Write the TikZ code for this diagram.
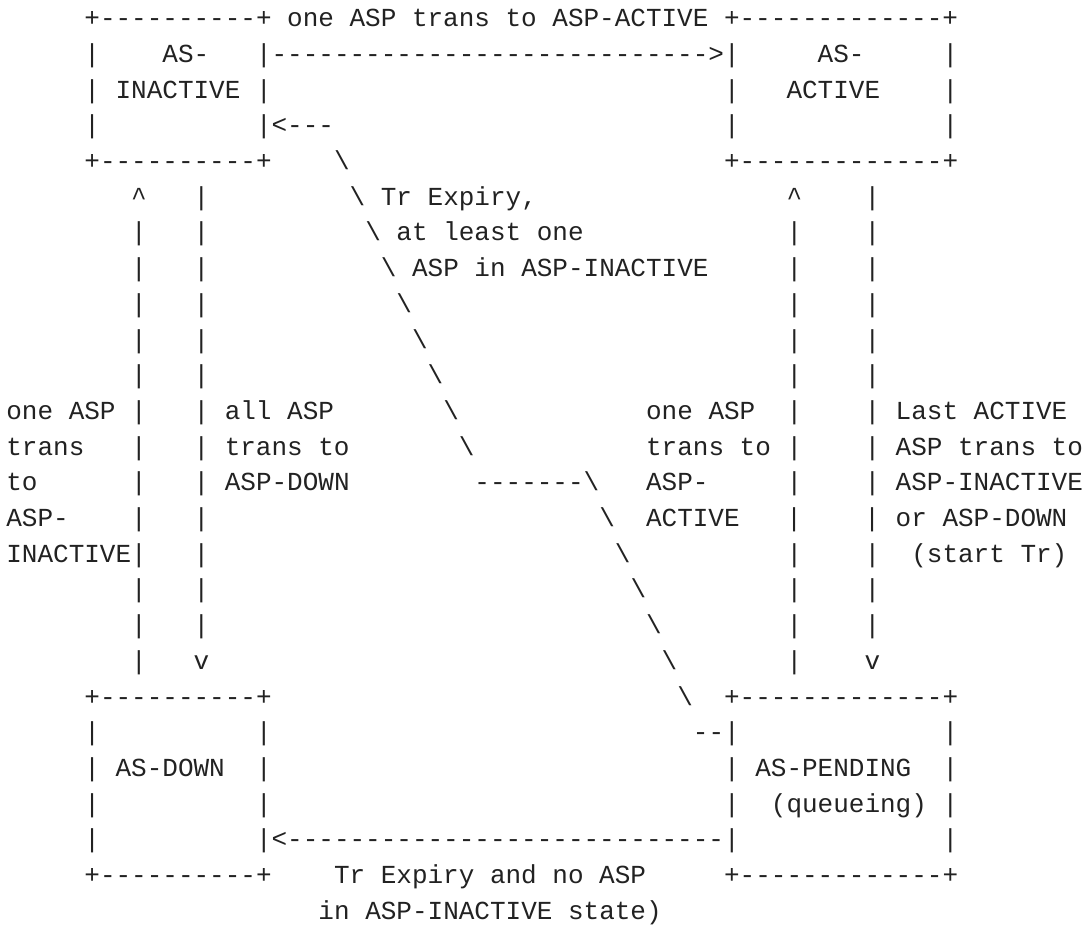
\documentclass[tikz,border=0pt]{standalone}
\usepackage{fontspec}
\setmonofont{Liberation Mono}
\usepackage{tikz}
\definecolor{asciiink}{HTML}{222222}
\newcommand{\spc}[1]{\hspace*{\dimexpr#1\fontcharwd\font`x\relax}}
\newcommand{\bsl}{\textbackslash}
\newcommand{\crt}{\textasciicircum}
\tikzset{asciiline/.style={font=\ttfamily\fontsize{26}{26}\selectfont, text=asciiink, inner sep=0pt, anchor=base west}}

\begin{document}
\begin{tikzpicture}[x=15.6024pt, y=-35.7pt]
		\useasboundingbox[fill=white] (0pt,0pt) rectangle (1090pt,-927pt);
		\begin{scope}[shift={(6.2pt,-26.7pt)}]
			% AS-INACTIVE and AS-ACTIVE
			\node[asciiline] (r1) at (5,0) {+----------+ one ASP trans to ASP-ACTIVE +-------------+};
			\node[asciiline] (r2) at (5,1) {|\spc{4}AS-\spc{3}|---------------------------->|\spc{5}AS-\spc{5}|};
			\node[asciiline] (r3) at (5,2) {| INACTIVE |\spc{29}|\spc{3}ACTIVE\spc{4}|};
			\node[asciiline] (r4) at (5,3) {|\spc{10}|<---\spc{25}|\spc{13}|};
			\node[asciiline] (r5) at (5,4) {+----------+\spc{4}\bsl\spc{24}+-------------+};
			% transitions
			\node[asciiline] (r6) at (8,5) {\crt\spc{3}|\spc{9}\bsl{} Tr Expiry,\spc{16}\crt\spc{4}|};
			\node[asciiline] (r7) at (8,6) {|\spc{3}|\spc{10}\bsl{} at least one\spc{13}|\spc{4}|};
			\node[asciiline] (r8) at (8,7) {|\spc{3}|\spc{11}\bsl{} ASP in ASP-INACTIVE\spc{5}|\spc{4}|};
			\node[asciiline] (r9) at (8,8) {|\spc{3}|\spc{12}\bsl\spc{24}|\spc{4}|};
			\node[asciiline] (r10) at (8,9) {|\spc{3}|\spc{13}\bsl\spc{23}|\spc{4}|};
			\node[asciiline] (r11) at (8,10) {|\spc{3}|\spc{14}\bsl\spc{22}|\spc{4}|};
			\node[asciiline] (r12) at (0,11) {one ASP |\spc{3}| all ASP\spc{7}\bsl\spc{12}one ASP\spc{2}|\spc{4}| Last ACTIVE};
			\node[asciiline] (r13) at (0,12) {trans\spc{3}|\spc{3}| trans to\spc{7}\bsl\spc{11}trans to |\spc{4}| ASP trans to};
			\node[asciiline] (r14) at (0,13) {to\spc{6}|\spc{3}| ASP-DOWN\spc{8}-------\bsl\spc{3}ASP-\spc{5}|\spc{4}| ASP-INACTIVE};
			\node[asciiline] (r15) at (0,14) {ASP-\spc{4}|\spc{3}|\spc{25}\bsl\spc{2}ACTIVE\spc{3}|\spc{4}| or ASP-DOWN};
			\node[asciiline] (r16) at (0,15) {INACTIVE|\spc{3}|\spc{26}\bsl\spc{10}|\spc{4}|\spc{2}(start Tr)};
			\node[asciiline] (r17) at (8,16) {|\spc{3}|\spc{27}\bsl\spc{9}|\spc{4}|};
			\node[asciiline] (r18) at (8,17) {|\spc{3}|\spc{28}\bsl\spc{8}|\spc{4}|};
			\node[asciiline] (r19) at (8,18) {|\spc{3}v\spc{29}\bsl\spc{7}|\spc{4}v};
			% AS-DOWN and AS-PENDING
			\node[asciiline] (r20) at (5,19) {+----------+\spc{26}\bsl\spc{2}+-------------+};
			\node[asciiline] (r21) at (5,20) {|\spc{10}|\spc{27}--|\spc{13}|};
			\node[asciiline] (r22) at (5,21) {| AS-DOWN\spc{2}|\spc{29}| AS-PENDING\spc{2}|};
			\node[asciiline] (r23) at (5,22) {|\spc{10}|\spc{29}|\spc{2}(queueing) |};
			\node[asciiline] (r24) at (5,23) {|\spc{10}|<----------------------------|\spc{13}|};
			\node[asciiline] (r25) at (5,24) {+----------+\spc{4}Tr Expiry and no ASP\spc{5}+-------------+};
			\node[asciiline] (r26) at (20,25) {in ASP-INACTIVE state)};
		\end{scope}
\end{tikzpicture}
\end{document}
